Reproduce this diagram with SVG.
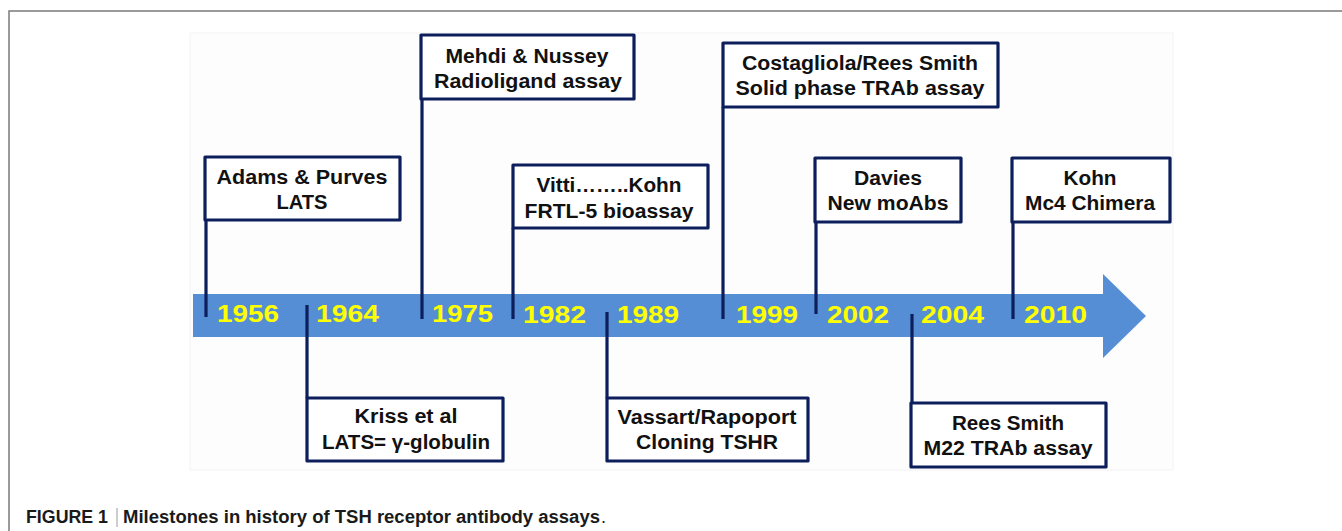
<svg xmlns="http://www.w3.org/2000/svg" width="1342" height="531" viewBox="0 0 1342 531">
<style>
.box{fill:#ffffff;stroke:#0c1f5c;stroke-width:3.2;stroke-linejoin:round}
.conn{stroke:#0c1f5c;stroke-width:3.2;fill:none}
.t{font-family:"Liberation Sans",Arial,sans-serif;font-weight:bold;font-size:20px;fill:#111111;text-anchor:middle}
.yr{font-family:"Liberation Sans",Arial,sans-serif;font-weight:bold;font-size:24px;fill:#ffff00}
.cap{font-family:"Liberation Sans",Arial,sans-serif;font-size:18px;fill:#1a1a1a}
</style>
<rect x="0" y="0" width="1342" height="531" fill="#ffffff"/>
<path d="M9 531 V11 H1342" fill="none" stroke="#7a7a7a" stroke-width="1.5"/>
<rect x="190" y="33" width="983" height="437" fill="#fdfdfd" stroke="#f3f3f3" stroke-width="1"/>
<g id="timeline-arrow">
<path d="M193 294 H1103 V274 L1146 316 L1103 358 V337 H193 Z" fill="#558ed5"/>
</g>
<g id="connectors">
<line class="conn" x1="206" y1="220" x2="206" y2="317"/>
<line class="conn" x1="422" y1="99" x2="422" y2="319"/>
<line class="conn" x1="513" y1="228" x2="513" y2="319"/>
<line class="conn" x1="723" y1="107" x2="723" y2="319"/>
<line class="conn" x1="816" y1="222" x2="816" y2="314"/>
<line class="conn" x1="1013" y1="222" x2="1013" y2="319"/>
<line class="conn" x1="307" y1="305" x2="307" y2="398"/>
<line class="conn" x1="607" y1="312" x2="607" y2="398"/>
<line class="conn" x1="912" y1="314" x2="912" y2="403"/>
</g>
<g id="years">
<text class="yr" x="217" y="322" textLength="62" lengthAdjust="spacingAndGlyphs">1956</text>
<text class="yr" x="316" y="322" textLength="63" lengthAdjust="spacingAndGlyphs">1964</text>
<text class="yr" x="432" y="322" textLength="61" lengthAdjust="spacingAndGlyphs">1975</text>
<text class="yr" x="523" y="323" textLength="63" lengthAdjust="spacingAndGlyphs">1982</text>
<text class="yr" x="617" y="323" textLength="62" lengthAdjust="spacingAndGlyphs">1989</text>
<text class="yr" x="736" y="323" textLength="62" lengthAdjust="spacingAndGlyphs">1999</text>
<text class="yr" x="827" y="323" textLength="62" lengthAdjust="spacingAndGlyphs">2002</text>
<text class="yr" x="921" y="323" textLength="63" lengthAdjust="spacingAndGlyphs">2004</text>
<text class="yr" x="1024" y="323" textLength="63" lengthAdjust="spacingAndGlyphs">2010</text>
</g>
<g id="node-1956">
<rect class="box" x="205" y="157" width="195" height="63"/>
<text class="t" x="302" y="184" textLength="171" lengthAdjust="spacingAndGlyphs">Adams &amp; Purves</text>
<text class="t" x="302" y="209" textLength="51" lengthAdjust="spacingAndGlyphs">LATS</text>
</g>
<g id="node-1964">
<rect class="box" x="307" y="398" width="196" height="63"/>
<text class="t" x="406" y="423" textLength="103" lengthAdjust="spacingAndGlyphs">Kriss et al</text>
<text class="t" x="406" y="449" textLength="168" lengthAdjust="spacingAndGlyphs">LATS= γ-globulin</text>
</g>
<g id="node-1975">
<rect class="box" x="421" y="35" width="213" height="64"/>
<text class="t" x="527" y="63" textLength="163" lengthAdjust="spacingAndGlyphs">Mehdi &amp; Nussey</text>
<text class="t" x="528" y="88" textLength="188" lengthAdjust="spacingAndGlyphs">Radioligand assay</text>
</g>
<g id="node-1982">
<rect class="box" x="513" y="165" width="195" height="63"/>
<text class="t" x="609" y="192" textLength="145" lengthAdjust="spacingAndGlyphs">Vitti……..Kohn</text>
<text class="t" x="609" y="218" textLength="169" lengthAdjust="spacingAndGlyphs">FRTL-5 bioassay</text>
</g>
<g id="node-1989">
<rect class="box" x="607" y="398" width="201" height="63"/>
<text class="t" x="707" y="424" textLength="179" lengthAdjust="spacingAndGlyphs">Vassart/Rapoport</text>
<text class="t" x="707" y="449" textLength="142" lengthAdjust="spacingAndGlyphs">Cloning TSHR</text>
</g>
<g id="node-1999">
<rect class="box" x="723" y="43" width="275" height="64"/>
<text class="t" x="860" y="70" textLength="236" lengthAdjust="spacingAndGlyphs">Costagliola/Rees Smith</text>
<text class="t" x="860" y="95" textLength="249" lengthAdjust="spacingAndGlyphs">Solid phase TRAb assay</text>
</g>
<g id="node-2002">
<rect class="box" x="815" y="158" width="146" height="64"/>
<text class="t" x="888" y="185" textLength="68" lengthAdjust="spacingAndGlyphs">Davies</text>
<text class="t" x="888" y="210" textLength="121" lengthAdjust="spacingAndGlyphs">New moAbs</text>
</g>
<g id="node-2004">
<rect class="box" x="911" y="403" width="195" height="64"/>
<text class="t" x="1008" y="430" textLength="112" lengthAdjust="spacingAndGlyphs">Rees Smith</text>
<text class="t" x="1008" y="455" textLength="169" lengthAdjust="spacingAndGlyphs">M22 TRAb assay</text>
</g>
<g id="node-2010">
<rect class="box" x="1012" y="158" width="158" height="64"/>
<text class="t" x="1090" y="185" textLength="53" lengthAdjust="spacingAndGlyphs">Kohn</text>
<text class="t" x="1090" y="210" textLength="130" lengthAdjust="spacingAndGlyphs">Mc4 Chimera</text>
</g>
<g id="caption">
<text class="cap" x="26" y="523" font-weight="bold" textLength="82" lengthAdjust="spacingAndGlyphs">FIGURE 1</text>
<line x1="117" y1="508" x2="117" y2="527" stroke="#9a9a9a" stroke-width="1"/>
<text class="cap" x="123" y="523" font-weight="bold" textLength="477" lengthAdjust="spacingAndGlyphs">Milestones in history of TSH receptor antibody assays</text>
<text class="cap" x="601" y="523">.</text>
</g>
</svg>
